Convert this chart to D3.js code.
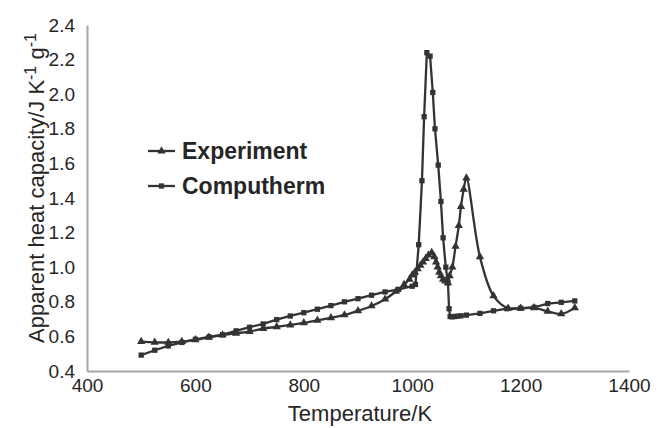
<!DOCTYPE html>
<html><head><meta charset="utf-8">
<script src="https://cdn.jsdelivr.net/npm/d3@7"></script>
<style>body{margin:0;background:#fff}svg{display:block}text{font-family:"Liberation Sans",Arial,sans-serif;fill:#262626}</style>
</head><body>
<script>
const expT=[500,525,550,575,600,625,650,675,700,725,750,775,800,825,850,875,900,925,950,970,985,995,1000,1005,1010,1015,1020,1025,1030,1036,1041,1044,1047,1050,1053,1057,1061,1066,1069,1074,1080,1086,1090,1095,1100,1125,1150,1177,1200,1225,1250,1275,1300];
const expV=[0.57,0.566,0.565,0.57,0.58,0.595,0.608,0.618,0.628,0.645,0.655,0.666,0.678,0.693,0.707,0.724,0.748,0.776,0.815,0.86,0.9,0.93,0.955,0.97,0.99,1.01,1.03,1.05,1.07,1.085,1.06,1.03,1.0,0.97,0.95,0.93,0.92,0.91,0.95,1.0,1.12,1.24,1.35,1.45,1.515,1.06,0.834,0.762,0.762,0.765,0.745,0.73,0.765];
const compT=[500,525,550,575,600,625,650,675,700,725,750,775,800,825,850,875,900,925,950,975,1000,1006,1012,1018,1022,1027,1033,1038,1042,1048,1053,1057,1062,1066,1068,1070,1074,1079,1084,1090,1100,1125,1150,1175,1200,1225,1250,1275,1300];
const compV=[0.492,0.52,0.545,0.565,0.583,0.597,0.61,0.632,0.653,0.672,0.697,0.718,0.737,0.757,0.778,0.8,0.818,0.838,0.857,0.872,0.89,0.9,1.13,1.5,1.87,2.24,2.22,2.01,1.8,1.59,1.38,1.17,1.0,0.91,0.76,0.715,0.713,0.715,0.717,0.719,0.723,0.733,0.748,0.76,0.763,0.768,0.79,0.797,0.805];
const xTicks=[400,600,800,1000,1200,1400];
const yTicks=[0.4,0.6,0.8,1.0,1.2,1.4,1.6,1.8,2.0,2.2,2.4];
const seriesNames=["Experiment","Computherm"];

const W=658,H=428;
const svg=d3.select("body").append("svg").attr("width",W).attr("height",H);
const x=d3.scaleLinear().domain([400,1400]).range([87,629]);
const y=d3.scaleLinear().domain([0.4,2.4]).range([371,25]);
const ink="#333";

const xAxis=svg.append("g").attr("transform","translate(0,371)").call(d3.axisBottom(x).tickValues(xTicks).tickSize(0).tickPadding(8).tickFormat(d3.format("d")));
const yAxis=svg.append("g").attr("transform","translate(87,0)").call(d3.axisLeft(y).tickValues(yTicks).tickSize(0).tickPadding(12).tickFormat(d3.format(".1f")));
[xAxis,yAxis].forEach(g=>{g.select(".domain").attr("stroke","#a6a6a6").attr("stroke-width",2);g.selectAll("text").style("font-size","19px").attr("fill","#262626");});

svg.append("text").attr("x",360).attr("y",421).attr("text-anchor","middle").style("font-size","22px").text("Temperature/K");
const yt=svg.append("text").attr("transform","translate(44,188) rotate(-90)").attr("text-anchor","middle").style("font-size","22px");
yt.append("tspan").text("Apparent heat capacity/J K");
yt.append("tspan").attr("dy",-8).style("font-size","16px").text("-1");
yt.append("tspan").attr("dy",8).text(" g");
yt.append("tspan").attr("dy",-8).style("font-size","16px").text("-1");

const expData=expT.map((t,i)=>[t,expV[i]]);
const compData=compT.map((t,i)=>[t,compV[i]]);
svg.append("path").datum(compData).attr("d",d3.line().x(d=>x(d[0])).y(d=>y(d[1]))).attr("fill","none").attr("stroke",ink).attr("stroke-width",2.3);
svg.append("path").datum(expData).attr("d",d3.line().x(d=>x(d[0])).y(d=>y(d[1])).curve(d3.curveCatmullRom.alpha(0.5))).attr("fill","none").attr("stroke",ink).attr("stroke-width",2.3);

const tri=d3.symbol().type(d3.symbolTriangle).size(30);
const sq=d3.symbol().type(d3.symbolSquare).size(28);
svg.append("g").selectAll("path").data(compData).join("path").attr("d",sq).attr("transform",d=>`translate(${x(d[0])},${y(d[1])})`).attr("fill",ink);
svg.append("g").selectAll("path").data(expData).join("path").attr("d",tri).attr("transform",d=>`translate(${x(d[0])},${y(d[1])})`).attr("fill",ink);

const lg=svg.append("g");
[[tri,151],[sq,186]].forEach((m,i)=>{
  const yy=m[1];
  lg.append("line").attr("x1",148).attr("x2",175).attr("y1",yy).attr("y2",yy).attr("stroke",ink).attr("stroke-width",2.3);
  lg.append("path").attr("d",m[0]).attr("transform",`translate(161.5,${yy})`).attr("fill",ink);
  lg.append("text").attr("x",182).attr("y",yy+8).style("font-size","23px").style("font-weight","bold").text(seriesNames[i]);
});
</script>
</body></html>
